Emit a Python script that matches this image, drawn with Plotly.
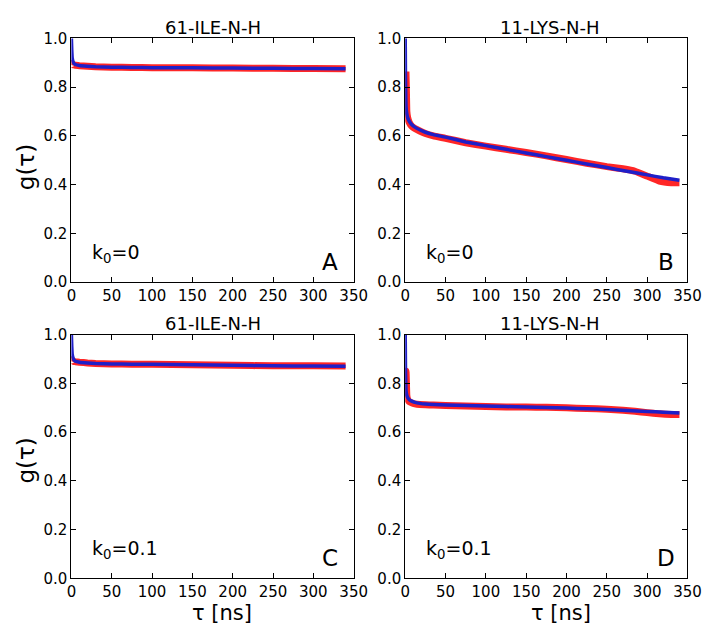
import plotly.graph_objects as go

# ---------------- data ----------------
titles = ["61-ILE-N-H", "11-LYS-N-H", "61-ILE-N-H", "11-LYS-N-H"]
k_labels = ["k<sub>0</sub>=0", "k<sub>0</sub>=0", "k<sub>0</sub>=0.1", "k<sub>0</sub>=0.1"]
letters = ["A", "B", "C", "D"]

# Panel A (61-ILE, k0=0)
tA_fit = [0, 0.5, 1, 2, 3, 5, 10, 20, 30, 50, 75, 100, 150, 200, 250, 300, 340]
gA_fit = [1.0, 0.95, 0.92, 0.905, 0.898, 0.893, 0.889, 0.886, 0.884, 0.882, 0.881, 0.880, 0.879, 0.878, 0.877, 0.876, 0.875]
tA_sim = [0, 0.5, 1, 2, 3, 5, 10, 20, 30, 50, 75, 100, 150, 200, 250, 300, 340]
gA_sim = [0.89, 0.897, 0.894, 0.892, 0.891, 0.890, 0.888, 0.886, 0.884, 0.882, 0.881, 0.880, 0.879, 0.878, 0.877, 0.876, 0.875]

# Panel B (11-LYS, k0=0)
tB_fit = [0, 0.3, 0.7, 1, 2, 3, 5, 8, 12, 18, 25, 35, 50, 75, 100, 125, 150, 175, 200, 225, 250, 275, 300, 320, 340]
gB_fit = [1.0, 0.85, 0.76, 0.72, 0.69, 0.675, 0.66, 0.647, 0.636, 0.625, 0.615, 0.605, 0.595, 0.575, 0.56, 0.545, 0.53, 0.515, 0.50, 0.485, 0.47, 0.455, 0.44, 0.428, 0.418]
tB_sim = [0, 0.5, 1, 1.5, 2, 3, 5, 8, 12, 18, 25, 35, 50, 75, 100, 125, 150, 175, 200, 225, 250, 270, 285, 300, 315, 330, 340]
gB_sim = [0.68, 0.75, 0.85, 0.78, 0.70, 0.675, 0.655, 0.64, 0.63, 0.62, 0.61, 0.60, 0.59, 0.572, 0.558, 0.545, 0.532, 0.518, 0.503, 0.488, 0.474, 0.465, 0.455, 0.435, 0.415, 0.408, 0.408]

# Panel C (61-ILE, k0=0.1)
tC_fit = [0, 0.5, 1, 2, 3, 5, 10, 20, 30, 50, 75, 100, 150, 200, 250, 300, 340]
gC_fit = [1.0, 0.95, 0.92, 0.905, 0.897, 0.891, 0.887, 0.884, 0.882, 0.880, 0.879, 0.878, 0.876, 0.874, 0.872, 0.871, 0.870]
tC_sim = [0, 0.5, 1, 2, 3, 5, 10, 20, 30, 50, 75, 100, 150, 200, 250, 300, 340]
gC_sim = [0.89, 0.897, 0.894, 0.892, 0.890, 0.889, 0.887, 0.884, 0.882, 0.880, 0.879, 0.878, 0.876, 0.874, 0.872, 0.872, 0.871]

# Panel D (11-LYS, k0=0.1)
tD_fit = [0, 0.3, 0.7, 1, 2, 3, 5, 8, 12, 18, 25, 35, 50, 75, 100, 125, 150, 175, 200, 225, 250, 275, 300, 320, 340]
gD_fit = [1.0, 0.87, 0.80, 0.77, 0.75, 0.742, 0.733, 0.727, 0.722, 0.718, 0.715, 0.713, 0.711, 0.709, 0.707, 0.705, 0.703, 0.701, 0.699, 0.696, 0.693, 0.689, 0.685, 0.682, 0.679]
tD_sim = [0, 0.5, 1, 1.5, 2, 3, 5, 8, 12, 18, 25, 35, 50, 75, 100, 125, 150, 175, 200, 225, 250, 270, 285, 300, 315, 330, 340]
gD_sim = [0.74, 0.78, 0.85, 0.80, 0.75, 0.735, 0.725, 0.72, 0.716, 0.713, 0.712, 0.711, 0.709, 0.707, 0.705, 0.703, 0.703, 0.702, 0.700, 0.697, 0.694, 0.690, 0.686, 0.680, 0.675, 0.672, 0.672]

x_ticks = [0, 50, 100, 150, 200, 250, 300, 350]
y_ticks = [0.0, 0.2, 0.4, 0.6, 0.8, 1.0]

sims = [(tA_sim, gA_sim), (tB_sim, gB_sim), (tC_sim, gC_sim), (tD_sim, gD_sim)]
fits = [(tA_fit, gA_fit), (tB_fit, gB_fit), (tC_fit, gC_fit), (tD_fit, gD_fit)]

# ---------------- layout geometry ----------------
W, H = 711, 628
FONT = "DejaVu Sans"
px = lambda x: x / W
py = lambda y: 1 - y / H

x_dom = [[px(60), px(350)], [px(403), px(693)]]
y_dom = [[py(273), py(22)], [py(578), py(327)]]

fig = go.Figure()
layout = dict(
    width=W, height=H, margin=dict(l=0, r=0, t=0, b=0),
    paper_bgcolor="white", plot_bgcolor="white", showlegend=False,
    font=dict(family=FONT, size=15, color="black"),
)
axis_common = dict(
    showline=True, linecolor="black", linewidth=1, mirror="ticks",
    ticks="inside", ticklen=5, tickcolor="black", tickwidth=1,
    showgrid=False, zeroline=False,
    tickfont=dict(family=FONT, size=15, color="black"),
)
annotations = []
for i in range(4):
    r, c = divmod(i, 2)
    n = i + 1
    xa = "x" if n == 1 else f"x{n}"
    ya = "y" if n == 1 else f"y{n}"
    xkey = "xaxis" if n == 1 else f"xaxis{n}"
    ykey = "yaxis" if n == 1 else f"yaxis{n}"
    layout[xkey] = dict(axis_common, domain=x_dom[c], range=[0, 350],
                        tickvals=x_ticks, ticktext=[str(v) for v in x_ticks], anchor=ya)
    layout[ykey] = dict(axis_common, domain=y_dom[r], range=[0, 1],
                        tickvals=y_ticks, ticktext=[f"{v:.1f}" for v in y_ticks], anchor=xa)
    t, g = sims[i]
    fig.add_trace(go.Scatter(x=t, y=g, mode="lines", xaxis=xa, yaxis=ya,
                             line=dict(color="rgba(255,0,0,0.85)", width=7, shape="spline", smoothing=0.3)))
    t, g = fits[i]
    fig.add_trace(go.Scatter(x=t, y=g, mode="lines", xaxis=xa, yaxis=ya,
                             line=dict(color="#1f1fc8", width=3.5, shape="spline", smoothing=0.3)))

    x0 = [60, 403][c]
    top = [22, 327][r]
    # title
    annotations.append(dict(text=titles[i], x=px([206, 551][c]), y=py(top - 11), xref="paper", yref="paper",
                            showarrow=False, xanchor="center", yanchor="middle",
                            font=dict(family=FONT, size=18, color="black")))
    # k0 label
    annotations.append(dict(text=k_labels[i], x=px(x0 + 19), y=py([243, 548][r]), xref="paper", yref="paper",
                            showarrow=False, xanchor="left", yanchor="middle",
                            font=dict(family=FONT, size=19, color="black")))
    # panel letter
    annotations.append(dict(text=letters[i], x=px([326, 671][c]), y=py([252, 557][r]), xref="paper", yref="paper",
                            showarrow=False, xanchor="center", yanchor="middle",
                            font=dict(family=FONT, size=23, color="black")))

# axis titles
for yc in [155, 457]:
    annotations.append(dict(text="g(τ)", x=px(13), y=py(yc), xref="paper", yref="paper",
                            showarrow=False, textangle=-90, xanchor="center", yanchor="middle",
                            font=dict(family=FONT, size=23, color="black")))
for xc in [215, 563]:
    annotations.append(dict(text="τ [ns]", x=px(xc), y=py(614), xref="paper", yref="paper",
                            showarrow=False, xanchor="center", yanchor="middle",
                            font=dict(family=FONT, size=21, color="black")))

layout["annotations"] = annotations
fig.update_layout(**layout)
fig.write_html("out.html")
